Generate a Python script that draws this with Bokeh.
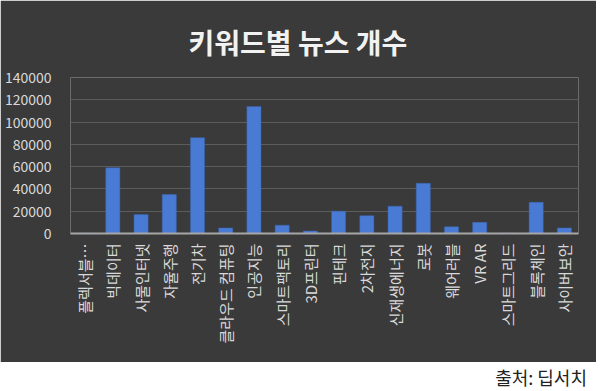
from bokeh.plotting import figure
from bokeh.models import Div, FixedTicker, NumeralTickFormatter
from bokeh.layouts import column
from bokeh.embed import file_html
from bokeh.resources import INLINE
import math

categories = ["플렉서블…", "빅데이터", "사물인터넷", "자율주행", "전기차", "클라우드 컴퓨팅",
              "인공지능", "스마트팩토리", "3D프린터", "핀테크", "2차전지", "신재생에너지",
              "로봇", "웨어러블", "VR AR", "스마트그리드", "블록체인", "사이버보안"]
counts = [300, 59000, 17000, 35000, 86000, 5000, 114000, 7500, 2200, 20000, 16000,
          24500, 45000, 6000, 10000, 400, 28000, 5000]
y_ticks = [0, 20000, 40000, 60000, 80000, 100000, 120000, 140000]

title_text = "키워드별 뉴스 개수"
source_text = "출처: 딥서치"

FONT = "Noto Sans CJK KR"
BG = "#3a3a3a"

p = figure(x_range=categories, y_range=(0, 140000), width=596, height=362,
           output_backend="svg", toolbar_location=None,
           min_border_left=70, min_border_right=18, min_border_top=77, min_border_bottom=129)
p.background_fill_color = BG
p.border_fill_color = BG
p.outline_line_color = None

p.vbar(x=categories, top=counts, width=0.5, fill_color="#4a7bd4", line_color="#3a64b0", line_width=0.5)

p.title.text = title_text
p.title.align = "left"
p.title.text_font = FONT
p.title.text_font_size = "28px"
p.title.text_font_style = "bold"
p.title.text_color = "#f2f2f2"
p.title.offset = 118
p.title.standoff = 31

p.yaxis.ticker = FixedTicker(ticks=y_ticks)
p.yaxis.formatter = NumeralTickFormatter(format="0")
p.yaxis.axis_line_color = None
p.yaxis.major_tick_line_color = None
p.yaxis.minor_tick_line_color = None
p.yaxis.major_label_text_color = "#d9d9d9"
p.yaxis.major_label_text_font = FONT
p.yaxis.major_label_text_font_size = "14px"
p.yaxis.major_label_standoff = 13

p.xaxis.axis_line_color = "#a6a6a6"
p.xaxis.axis_line_width = 2
p.xaxis.major_tick_line_color = None
p.xaxis.minor_tick_line_color = None
p.xaxis.major_label_orientation = math.pi / 2
p.xaxis.major_label_text_color = "#d9d9d9"
p.xaxis.major_label_text_font = FONT
p.xaxis.major_label_text_font_size = "15px"
p.xaxis.major_label_standoff = 4

p.xgrid.grid_line_color = None
p.ygrid.grid_line_color = "#5c5c5c"
p.ygrid.grid_line_width = 1
p.x_range.range_padding = 0

div = Div(text=f'<div style="width:582px;text-align:right;font-family:\'{FONT}\';font-size:18px;color:#222;line-height:20px;margin:0;padding:0">{source_text}</div>',
          width=596, height=27)

layout = column(p, div, spacing=0)
open("out.html", "w").write(file_html(layout, INLINE))
